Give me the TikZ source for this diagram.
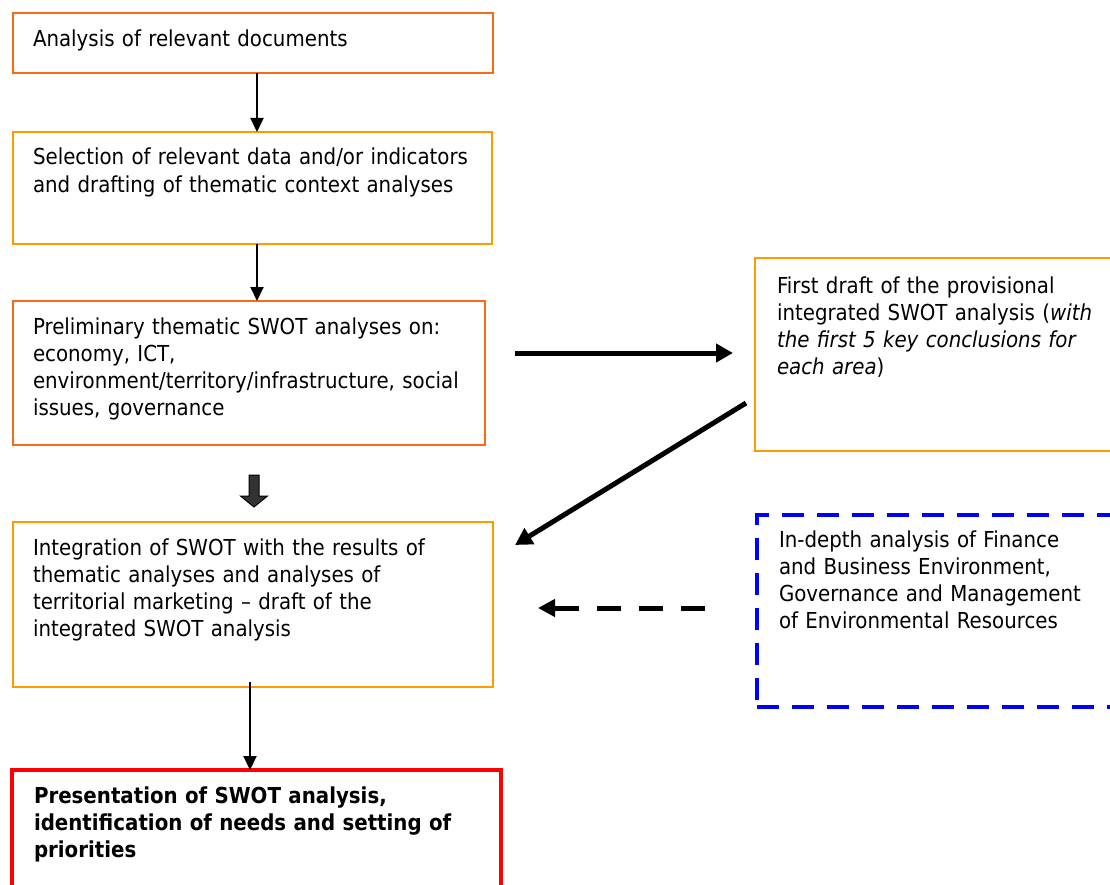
\documentclass[tikz,border=0pt]{standalone}
\usepackage{fontspec}
\setmainfont{DejaVu Sans}[FakeStretch=0.9]
\usetikzlibrary{arrows.meta,calc}

\definecolor{deeporange}{HTML}{FF6A10}
\definecolor{amber}{HTML}{FF9A00}
\definecolor{blockgray}{HTML}{333333}

\tikzset{
  frame/.style={draw, line width=2pt, inner sep=0pt, outer sep=0pt, anchor=north west},
  dframe/.style={frame, draw=deeporange},
  aframe/.style={frame, draw=amber},
  rframe/.style={frame, draw=red, line width=3.5pt},
  bframe/.style={frame, draw=blue, line width=3.5pt, dash pattern=on 22pt off 13pt},
  label text/.style={anchor=base west, inner sep=0pt, outer sep=0pt, text width=470pt,
    align=left, font=\fontsize{22pt}{27.3pt}\selectfont},
  thinarrow/.style={line width=2pt, -{Triangle[length=14pt,width=13pt]}},
  boldarrow/.style={line width=5pt, -{Triangle[length=17pt,width=18pt]}},
  dasharrow/.style={line width=5pt, dash pattern=on 24pt off 18pt,
    -{Triangle[length=17pt,width=17pt]}}
}

\begin{document}
\begin{tikzpicture}[x=1pt, y=-1pt]
\useasboundingbox (0,0) rectangle (1110,885);
\clip (0,0) rectangle (1110,885);

% left column of steps
\node[dframe, minimum width=480pt, minimum height=60pt] (b1) at (13,13) {};
\node[label text] (t1) at ($(b1.north west)+(20,34)$) {Analysis of relevant documents};

\node[aframe, minimum width=479pt, minimum height=112pt] (b2) at (13,132) {};
\node[label text] (t2) at ($(b2.north west)+(20,33)$)
  {Selection of relevant data and/or indicators\\and drafting of thematic context analyses};

\node[dframe, minimum width=472pt, minimum height=144pt] (b3) at (13,301) {};
\node[label text] (t3) at ($(b3.north west)+(20,33)$)
  {Preliminary thematic SWOT analyses on:\\economy, ICT,\\environment/territory/infrastructure, social\\issues, governance};

\node[aframe, minimum width=480pt, minimum height=165pt] (b4) at (13,522) {};
\node[label text] (t4) at ($(b4.north west)+(20,33)$)
  {Integration of SWOT with the results of\\thematic analyses and analyses of\\territorial marketing – draft of the\\integrated SWOT analysis};

\node[rframe, minimum width=489pt, minimum height=200pt] (b5) at (12,770) {};
\node[label text, font=\fontsize{22pt}{27.3pt}\selectfont\bfseries] (t5) at ($(b5.north west)+(22,33)$)
  {Presentation of SWOT analysis,\\identification of needs and setting of\\priorities};

% right column
\node[aframe, minimum width=400pt, minimum height=193pt] (r1) at (755,258) {};
\node[label text] (tr1) at ($(r1.north west)+(22,35)$)
  {First draft of the provisional\\integrated SWOT analysis (\textit{with}\\\textit{the first 5 key conclusions for}\\\textit{each area})};

\node[bframe, minimum width=400pt, minimum height=192pt] (r2) at (757,515) {};
\node[label text] (tr2) at ($(r2.north west)+(22,32)$)
  {In-depth analysis of Finance\\and Business Environment,\\Governance and Management\\of Environmental Resources};

% connectors
\coordinate (upper axis) at (257,0);
\coordinate (lower axis) at (250,0);
\draw[thinarrow] (b1.south -| upper axis) -- (b2.north -| upper axis);
\draw[thinarrow] (b2.south -| upper axis) -- (b3.north -| upper axis);
\draw[thinarrow] ([yshift=5pt]b4.south -| lower axis) -- (b5.north -| lower axis);

\coordinate (hs) at (515,353);
\coordinate (he) at (733,353);
\draw[boldarrow] (hs) -- (he);

\coordinate (ds) at (746,403);
\coordinate (de) at (515,545);
\draw[boldarrow] (ds) -- (de);

\coordinate (qs) at (705,608);
\coordinate (qe) at (538,608);
\draw[dasharrow] (qs) -- (qe);

% block arrow between the thematic analyses and the integration step
\draw[fill=blockgray, line width=1pt, line join=miter]
  (249,475) -- (259,475) -- (259,496) -- (267.5,496) -- (254,507)
  -- (240.5,496) -- (249,496) -- cycle;
\end{tikzpicture}
\end{document}
